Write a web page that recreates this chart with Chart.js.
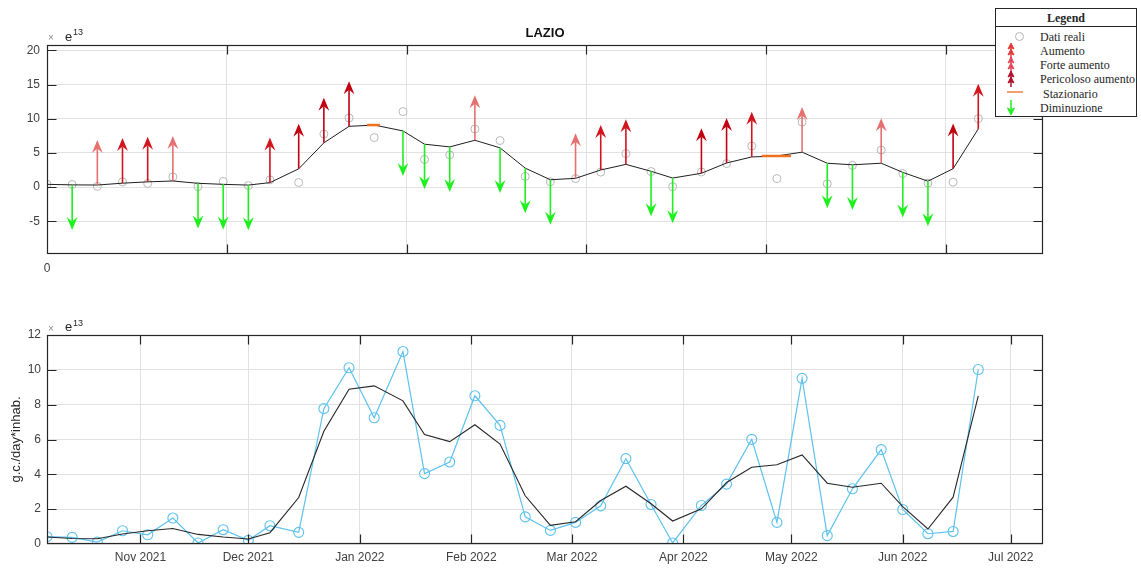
<!DOCTYPE html>
<html><head><meta charset="utf-8">
<script src="https://cdn.jsdelivr.net/npm/chart.js@4.4.1/dist/chart.umd.min.js"></script>
<style>
html,body{margin:0;padding:0;background:#fff;}
#wrap{position:relative;width:1141px;height:571px;overflow:hidden;font-family:'Liberation Sans',Arial,sans-serif;}
canvas{position:absolute;left:0;}
#c1{top:0;width:1141px;height:290px;}
#c2{top:290px;width:1141px;height:281px;}
.sx{position:absolute;font-size:10px;line-height:10px;color:#8c8c8c;}
.se{position:absolute;font-size:13px;line-height:13px;color:#262626;}
.s13{position:absolute;font-size:9px;line-height:9px;color:#262626;}
#legend{position:absolute;left:995px;top:8px;width:140px;height:107px;border:1px solid #262626;background:#fff;
  font-family:'Liberation Serif','Times New Roman',serif;font-size:12px;color:#262626;}
#legend .hd{position:absolute;left:0;top:0;width:140px;height:17px;line-height:18px;text-align:center;font-weight:bold;border-bottom:1px solid #262626;}
#legend .it{position:absolute;left:44px;height:14px;line-height:14px;white-space:nowrap;}
#legend svg{position:absolute;left:0;top:0;}
</style></head>
<body><div id="wrap">
<canvas id="c1" width="1141" height="290"></canvas>
<canvas id="c2" width="1141" height="281"></canvas>
<span class="sx" style="left:48px;top:33px;">×</span><span class="se" style="left:65px;top:30px;">e</span><span class="s13" style="left:73px;top:28px;">13</span>
<span class="sx" style="left:48px;top:324px;">×</span><span class="se" style="left:65px;top:320px;">e</span><span class="s13" style="left:73px;top:319px;">13</span>
<div id="legend">
  <div class="hd">Legend</div>
  <svg width="40" height="107" viewBox="0 0 40 107">
    <circle cx="23.5" cy="27.5" r="4" fill="none" stroke="#b5b5b5" stroke-width="1"/>
    <g stroke="#e23a3a" fill="#e23a3a"><line x1="15" y1="50" x2="15" y2="36" stroke-width="1.5"/><path d="M15 34 L18 40 L15 38.5 L12 40 Z"/><path d="M15 40 L18 46 L15 44.5 L12 46 Z"/></g>
    <g stroke="#e04a58" fill="#e04a58"><line x1="15" y1="64" x2="15" y2="50" stroke-width="1.5"/><path d="M15 48 L18 54 L15 52.5 L12 54 Z"/><path d="M15 54 L18 60 L15 58.5 L12 60 Z"/></g>
    <g stroke="#b0102a" fill="#b0102a"><line x1="15" y1="78" x2="15" y2="64" stroke-width="1.5"/><path d="M15 62 L18 68 L15 66.5 L12 68 Z"/><path d="M15 68 L18 74 L15 72.5 L12 74 Z"/></g>
    <line x1="11" y1="83" x2="27" y2="83" stroke="#f5a070" stroke-width="2"/>
    <g stroke="#22ee22" fill="#22ee22"><line x1="15" y1="91" x2="15" y2="102" stroke-width="1.5"/><path d="M15 106 L18.5 99 L15 101 L11.5 99 Z"/></g>
  </svg>
  <div class="it" style="top:21px;">Dati reali</div>
  <div class="it" style="top:35px;">Aumento</div>
  <div class="it" style="top:49px;">Forte aumento</div>
  <div class="it" style="top:63px;">Pericoloso aumento</div>
  <div class="it" style="top:78px;">&nbsp;Stazionario</div>
  <div class="it" style="top:92px;">Diminuzione</div>
</div>
</div>
<script>
// ---------------- DATA ----------------
const startDate = '2021-10-06';
const endDate = '2022-07-10';
const sampleDates = ['2021-10-06','2021-10-13','2021-10-20','2021-10-27','2021-11-03','2021-11-10','2021-11-17','2021-11-24',
  '2021-12-01','2021-12-07','2021-12-15','2021-12-22','2021-12-29','2022-01-05','2022-01-13','2022-01-19','2022-01-26',
  '2022-02-02','2022-02-09','2022-02-16','2022-02-23','2022-03-02','2022-03-09','2022-03-16','2022-03-23','2022-03-29',
  '2022-04-06','2022-04-13','2022-04-20','2022-04-27','2022-05-04','2022-05-11','2022-05-18','2022-05-26','2022-06-01',
  '2022-06-08','2022-06-15','2022-06-22'];
const realValues = [0.42,0.38,0.11,0.76,0.53,1.49,0.06,0.82,0.21,1.05,0.67,7.77,10.12,7.25,11.05,4.04,4.71,8.51,6.81,1.56,
  0.78,1.24,2.19,4.90,2.27,0.06,2.21,3.44,6.01,1.24,9.51,0.48,3.17,5.42,1.98,0.59,0.72,10.02];
const trendValues = [0.40,0.32,0.30,0.57,0.76,0.89,0.55,0.40,0.29,0.65,2.67,6.47,8.89,9.08,8.22,6.28,5.88,6.85,5.74,2.77,
  1.07,1.28,2.50,3.32,2.31,1.32,2.02,3.53,4.41,4.55,5.11,3.49,3.26,3.49,2.15,0.86,2.69,8.51];
const trendClass = ['none','dim','aum','forte','forte','aum','dim','dim','dim','forte','peric','peric','peric','staz',
  'dim','dim','dim','aum','dim','dim','dim','aum','forte','forte','dim','dim','peric','peric','forte','staz',
  'aum','dim','dim','aum','dim','dim','peric','forte'];
const stazFromDay = [89.0, 198.8];
const stazToDay = [92.6, 206.9];
const stazIndex = [13, 29];
const monthTickDates = ['2021-11-01','2021-12-01','2022-01-01','2022-02-01','2022-03-01','2022-04-01','2022-05-01','2022-06-01','2022-07-01'];
const monthTickLabels = ['Nov 2021','Dec 2021','Jan 2022','Feb 2022','Mar 2022','Apr 2022','May 2022','Jun 2022','Jul 2022'];
const topXTicks = [0,50,100,150,200,250];
const topXTickLabels = ['0','','','','',''];
const topYTicks = [-5,0,5,10,15,20];
const bottomYTicks = [0,2,4,6,8,10,12];
const topYRange = [-9.8, 20.8];
const bottomYRange = [0, 12];
const arrowLength = 6.6;

// ---------------- HELPERS ----------------
const dayOf = s => (Date.parse(s + 'T00:00:00Z') - Date.parse(startDate + 'T00:00:00Z')) / 864e5;
const days = sampleDates.map(dayOf);
const xMax = dayOf(endDate);
const realPts = days.map((d, i) => ({x: d, y: realValues[i]}));
const trendPts = days.map((d, i) => ({x: d, y: trendValues[i]}));
const monthTickDays = monthTickDates.map(dayOf);

const ARROW_STYLE = {
  aum:   {dir: 1,  color: 'rgba(226,96,96,0.9)'},
  forte: {dir: 1,  color: '#d2141e'},
  peric: {dir: 1,  color: '#c00010'},
  dim:   {dir: -1, color: '#1ef01e'}
};

Chart.defaults.font.family = "'Liberation Sans', Arial, sans-serif";
Chart.defaults.font.size = 12;
Chart.defaults.color = '#404040';

function drawArrow(ctx, x, y0, y1, color) {
  const s = y0 > y1 ? 1 : -1; // +1 => arrow points up
  const headLen = 13, notch = 8.5, half = 5.4;
  ctx.strokeStyle = color; ctx.fillStyle = color; ctx.lineWidth = 1.6;
  ctx.beginPath(); ctx.moveTo(x, y0); ctx.lineTo(x, y1 + s * notch); ctx.stroke();
  ctx.beginPath();
  ctx.moveTo(x, y1);
  ctx.lineTo(x + half, y1 + s * headLen);
  ctx.lineTo(x, y1 + s * notch);
  ctx.lineTo(x - half, y1 + s * headLen);
  ctx.closePath(); ctx.fill();
}

const arrowPlugin = {
  id: 'arrows',
  afterDatasetsDraw(chart) {
    const {ctx, scales: {x, y}} = chart;
    ctx.save();
    days.forEach((d, i) => {
      const st = ARROW_STYLE[trendClass[i]];
      if (!st) return;
      const px = x.getPixelForValue(d);
      drawArrow(ctx, px, y.getPixelForValue(trendValues[i]), y.getPixelForValue(trendValues[i] + st.dir * arrowLength), st.color);
    });
    ctx.restore();
  }
};

const framePlugin = {
  id: 'frame',
  afterDraw(chart) {
    const {ctx, chartArea: a, scales: {x, y}} = chart;
    const L = Math.round(a.left) + 0.5, R = Math.round(a.right) - 0.5, T = Math.round(a.top) + 0.5, B = Math.round(a.bottom) - 0.5;
    const tl = 9;
    ctx.save();
    ctx.strokeStyle = '#262626'; ctx.lineWidth = 1.2;
    ctx.strokeRect(L, T, R - L, B - T);
    ctx.beginPath();
    x.ticks.forEach(t => {
      const px = Math.round(x.getPixelForValue(t.value)) + 0.5;
      if (px <= L + 1 || px >= R - 1) return;
      ctx.moveTo(px, B); ctx.lineTo(px, B - tl); ctx.moveTo(px, T); ctx.lineTo(px, T + tl);
    });
    y.ticks.forEach(t => {
      const py = Math.round(y.getPixelForValue(t.value)) + 0.5;
      if (py <= T + 1 || py >= B - 1) return;
      ctx.moveTo(L, py); ctx.lineTo(L + tl, py); ctx.moveTo(R, py); ctx.lineTo(R - tl, py);
    });
    ctx.stroke();
    ctx.restore();
  }
};

const gridOpts = {color: '#e2e2e2', lineWidth: 1, drawTicks: false};

// ---------------- TOP CHART ----------------
const stazDatasets = stazIndex.map((idx, k) => ({
  type: 'line',
  data: [{x: stazFromDay[k], y: trendValues[idx]}, {x: stazToDay[k], y: trendValues[idx]}],
  borderColor: '#f07020', borderWidth: 2.5, pointRadius: 0, showLine: true, order: 0
}));

new Chart(document.getElementById('c1'), {
  type: 'scatter',
  data: {
    datasets: [
      ...stazDatasets,
      {type: 'line', data: trendPts, borderColor: '#1f1f1f', borderWidth: 1, pointRadius: 0, showLine: true, order: 1},
      {data: realPts, showLine: false, pointRadius: 4, pointBorderWidth: 1, pointBorderColor: '#b8b8b8',
       pointBackgroundColor: 'rgba(0,0,0,0)', order: 2}
    ]
  },
  options: {
    responsive: false, animation: false,
    layout: {padding: {left: 0, right: 98, top: 0, bottom: 0}},
    plugins: {
      legend: {display: false}, tooltip: {enabled: false},
      title: {display: true, text: 'LAZIO', fullSize: false, color: '#111',
        font: {size: 13, weight: 'bold'}, padding: {top: 25.4, bottom: 4}}
    },
    scales: {
      x: {type: 'linear', min: 0, max: xMax, position: 'bottom',
        afterFit: s => { s.height = 36; },
        afterBuildTicks: s => { s.ticks = topXTicks.map(v => ({value: v})); },
        ticks: {autoSkip: false, maxRotation: 0, padding: 7, callback: (v, i) => topXTickLabels[i]},
        grid: gridOpts, border: {display: false}},
      y: {type: 'linear', min: topYRange[0], max: topYRange[1],
        afterFit: s => { s.width = 47; },
        afterBuildTicks: s => { s.ticks = topYTicks.map(v => ({value: v})); },
        ticks: {padding: 7, callback: v => String(v)},
        grid: gridOpts, border: {display: false}}
    }
  },
  plugins: [arrowPlugin, framePlugin]
});

// ---------------- BOTTOM CHART ----------------
new Chart(document.getElementById('c2'), {
  type: 'scatter',
  data: {
    datasets: [
      {type: 'line', data: trendPts, borderColor: '#262626', borderWidth: 1.1, pointRadius: 0, showLine: true},
      {type: 'line', data: realPts, borderColor: '#5ec2ee', borderWidth: 1.2, showLine: true,
       pointRadius: 5, pointBorderWidth: 1.1, pointBorderColor: '#5ec2ee', pointBackgroundColor: 'rgba(0,0,0,0)'}
    ]
  },
  options: {
    responsive: false, animation: false,
    layout: {padding: {left: 0, right: 98, top: 45, bottom: 0}},
    plugins: {legend: {display: false}, tooltip: {enabled: false}},
    scales: {
      x: {type: 'linear', min: 0, max: xMax, position: 'bottom',
        afterFit: s => { s.height = 27; },
        afterBuildTicks: s => { s.ticks = monthTickDays.map(v => ({value: v})); },
        ticks: {autoSkip: false, maxRotation: 0, padding: 6.5, callback: (v, i) => monthTickLabels[i]},
        grid: gridOpts, border: {display: false}},
      y: {type: 'linear', min: bottomYRange[0], max: bottomYRange[1],
        afterFit: s => { s.width = 47; },
        afterBuildTicks: s => { s.ticks = bottomYTicks.map(v => ({value: v})); },
        ticks: {padding: 6, callback: v => String(v)},
        title: {display: true, text: 'g.c./day*inhab.', color: '#262626', font: {size: 13}, padding: {top: 9, bottom: 0}},
        grid: gridOpts, border: {display: false}}
    }
  },
  plugins: [framePlugin]
});
</script>
</body></html>
